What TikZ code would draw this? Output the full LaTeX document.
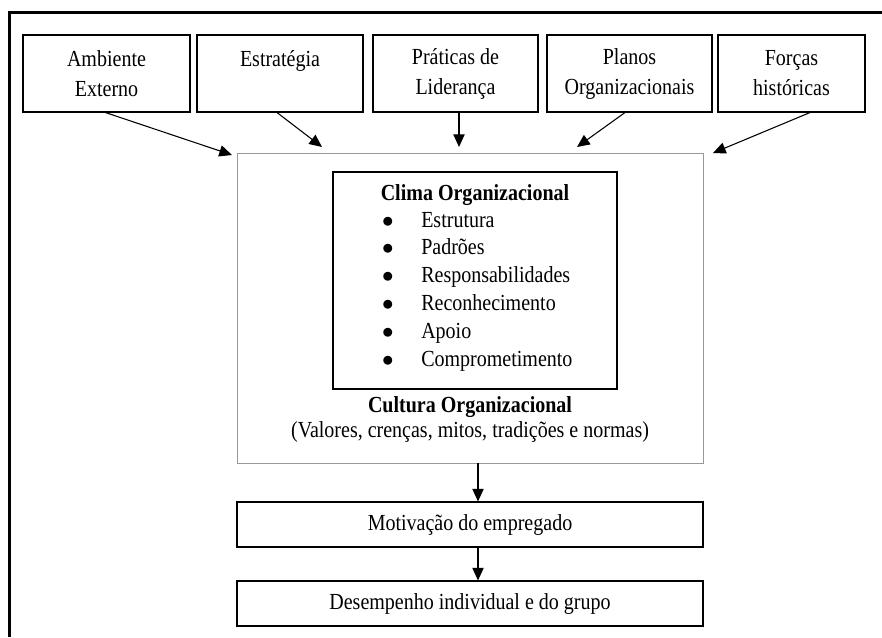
\documentclass[tikz,border=0pt]{standalone}
\usepackage{fontspec}
\setmainfont{Liberation Serif}[FakeStretch=0.87]
\usetikzlibrary{arrows.meta}
\newlength\px
\setlength\px{0.75pt}
\begin{document}
\begin{tikzpicture}[x=0.75pt,y=-0.75pt, every node/.style={font=\fontsize{17.25}{22.5}\selectfont},
  topbox/.style={draw,line width=0.8pt,minimum height=77\px,align=center,inner sep=0pt},
  outbox/.style={draw,line width=0.8pt,minimum width=466\px,minimum height=45\px,inner sep=0pt},
  arr/.style={-{Triangle[length=9.5pt,width=8.5pt]},line width=0.8pt}]
\useasboundingbox (0,0) rectangle (882,637);
% frame
\draw[line width=2.2pt] (9.5,637) -- (9.5,12.5) -- (882,12.5);
\node[topbox,minimum width=167\px] (amb) at (106.5,73.5) {Ambiente\\ Externo};
\node[topbox,minimum width=166\px] (est) at (280,73.5) {Estratégia\\ \mbox{}};
\node[topbox,minimum width=165\px] (lid) at (455.5,73.5) {Práticas de\\ Liderança};
\node[topbox,minimum width=165\px] (pla) at (629.5,73.5) {Planos\\ Organizacionais};
\node[topbox,minimum width=147\px] (his) at (791.5,73.5) {Forças\\ históricas};
% cultura / clima
\node[draw=gray!80,line width=0.6pt,minimum width=466\px,minimum height=310\px] (cul) at (470,308) {};
\node[draw,line width=0.8pt,minimum width=284\px,minimum height=217\px] (cli) at (475,280.5) {};
\node[anchor=base,font=\fontsize{17.25}{22.5}\selectfont\bfseries] (clit) at (475,200) {Clima Organizacional};
\foreach \t [count=\i from 0] in {Estrutura,Padrões,Responsabilidades,Reconhecimento,Apoio,Comprometimento}{
  \node[anchor=base] (b\i) at (388,227+27.8*\i) {$\bullet$};
  \node[anchor=base west,inner sep=0pt] (it\i) at (421,227+27.8*\i) {\t};
}
\node[anchor=base,font=\fontsize{17.25}{22.5}\selectfont\bfseries] (cult) at (470,412) {Cultura Organizacional};
\node[anchor=base] (val) at (470,437) {(Valores, crenças, mitos, tradições e normas)};
\node[outbox] (mot) at (470,524.5) {Motivação do empregado};
\node[outbox] (des) at (470,603.5) {Desempenho individual e do grupo};
% arrow ends
\coordinate (e1) at (232,155);
\coordinate (e2) at (322,147);
\coordinate (e3) at (459,147);
\coordinate (e4) at (577,147);
\coordinate (e5) at (713,153);
\coordinate (c1) at (478,463);
\coordinate (c2) at (478,502);
\coordinate (c3) at (478,547);
\coordinate (c4) at (478,581);
\draw[arr] ([xshift=-1\px]amb.south) -- (e1);
\draw[arr] ([xshift=-3\px]est.south) -- (e2);
\draw[arr] ([xshift=3.5\px]lid.south) -- (e3);
\draw[arr] ([xshift=-4.5\px]pla.south) -- (e4);
\draw[arr] ([xshift=18.5\px]his.south) -- (e5);
\draw[arr] (c1) -- (c2 |- mot.north);
\draw[arr] (c3 |- mot.south) -- (c4 |- des.north);
\end{tikzpicture}
\end{document}
